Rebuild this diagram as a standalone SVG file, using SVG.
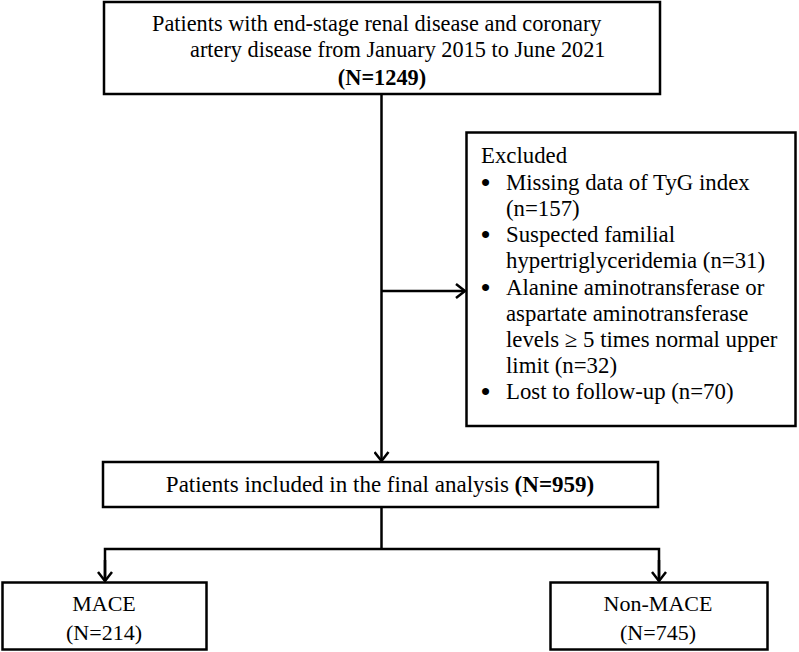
<svg xmlns="http://www.w3.org/2000/svg" width="799" height="652" viewBox="0 0 799 652">
<defs>
<style>
.box{fill:#fff;stroke:#000;stroke-width:2.5}
.t{font-family:"Liberation Serif","Times New Roman",serif;font-size:22.3px;fill:#000}
.x{font-size:22.8px}
.b{font-weight:bold}
.bu{font-weight:bold;font-size:26px}
.ln{fill:none;stroke:#000;stroke-width:2.5}
</style>
<marker id="ah" markerWidth="12" markerHeight="16" refX="10" refY="8" orient="auto" markerUnits="userSpaceOnUse">
<path d="M1,1 L10,8 L1,15" fill="none" stroke="#000" stroke-width="2.5"/>
</marker>
</defs>
<rect width="799" height="652" fill="#fff"/>
<g id="connectors">
<line class="ln" x1="381.5" y1="94" x2="381.5" y2="461" marker-end="url(#ah)"/>
<line class="ln" x1="381.5" y1="291" x2="465" y2="291" marker-end="url(#ah)"/>
<line class="ln" x1="381.5" y1="507" x2="381.5" y2="549"/>
<polyline class="ln" points="105,581 105,549 659,549 659,581"/>
<line class="ln" x1="105" y1="560" x2="105" y2="581" marker-end="url(#ah)"/>
<line class="ln" x1="659" y1="560" x2="659" y2="581" marker-end="url(#ah)"/>
</g>
<g id="n-start">
<rect class="box" x="104" y="2" width="556" height="92"/>
<text class="t" x="152" y="31">Patients with end-stage renal disease and coronary</text>
<text class="t" x="190" y="57">artery disease from January 2015 to June 2021</text>
<text class="t b" x="382" y="85" text-anchor="middle">(N=1249)</text>
</g>
<g id="n-excluded">
<rect class="box" x="466.5" y="132.5" width="329" height="293.5"/>
<g class="t x">
<text x="481" y="163">Excluded</text>
<text class="bu" x="481" y="191">•</text><text x="506" y="190">Missing data of TyG index</text>
<text x="506" y="216">(n=157)</text>
<text class="bu" x="481" y="243">•</text><text x="506" y="242">Suspected familial</text>
<text x="506" y="268">hypertriglyceridemia (n=31)</text>
<text class="bu" x="481" y="296">•</text><text x="506" y="295">Alanine aminotransferase or</text>
<text x="506" y="321">aspartate aminotransferase</text>
<text x="506" y="347">levels ≥ 5 times normal upper</text>
<text x="506" y="373">limit (n=32)</text>
<text class="bu" x="481" y="400">•</text><text x="506" y="399">Lost to follow-up (n=70)</text>
</g>
</g>
<g id="n-included">
<rect class="box" x="103" y="462" width="555" height="45"/>
<text class="t" x="380" y="492" text-anchor="middle" style="font-size:23px">Patients included in the final analysis <tspan class="b">(N=959)</tspan></text>
</g>
<g id="n-mace">
<rect class="box" x="2.5" y="582.5" width="204" height="67"/>
<text class="t" x="104" y="611" text-anchor="middle" style="font-size:22px">MACE</text>
<text class="t" x="104" y="640" text-anchor="middle" style="font-size:22px">(N=214)</text>
</g>
<g id="n-nonmace">
<rect class="box" x="550.5" y="582.5" width="217" height="67"/>
<text class="t" x="658" y="611" text-anchor="middle" style="font-size:22px">Non-MACE</text>
<text class="t" x="658" y="640" text-anchor="middle" style="font-size:22px">(N=745)</text>
</g>
</svg>
